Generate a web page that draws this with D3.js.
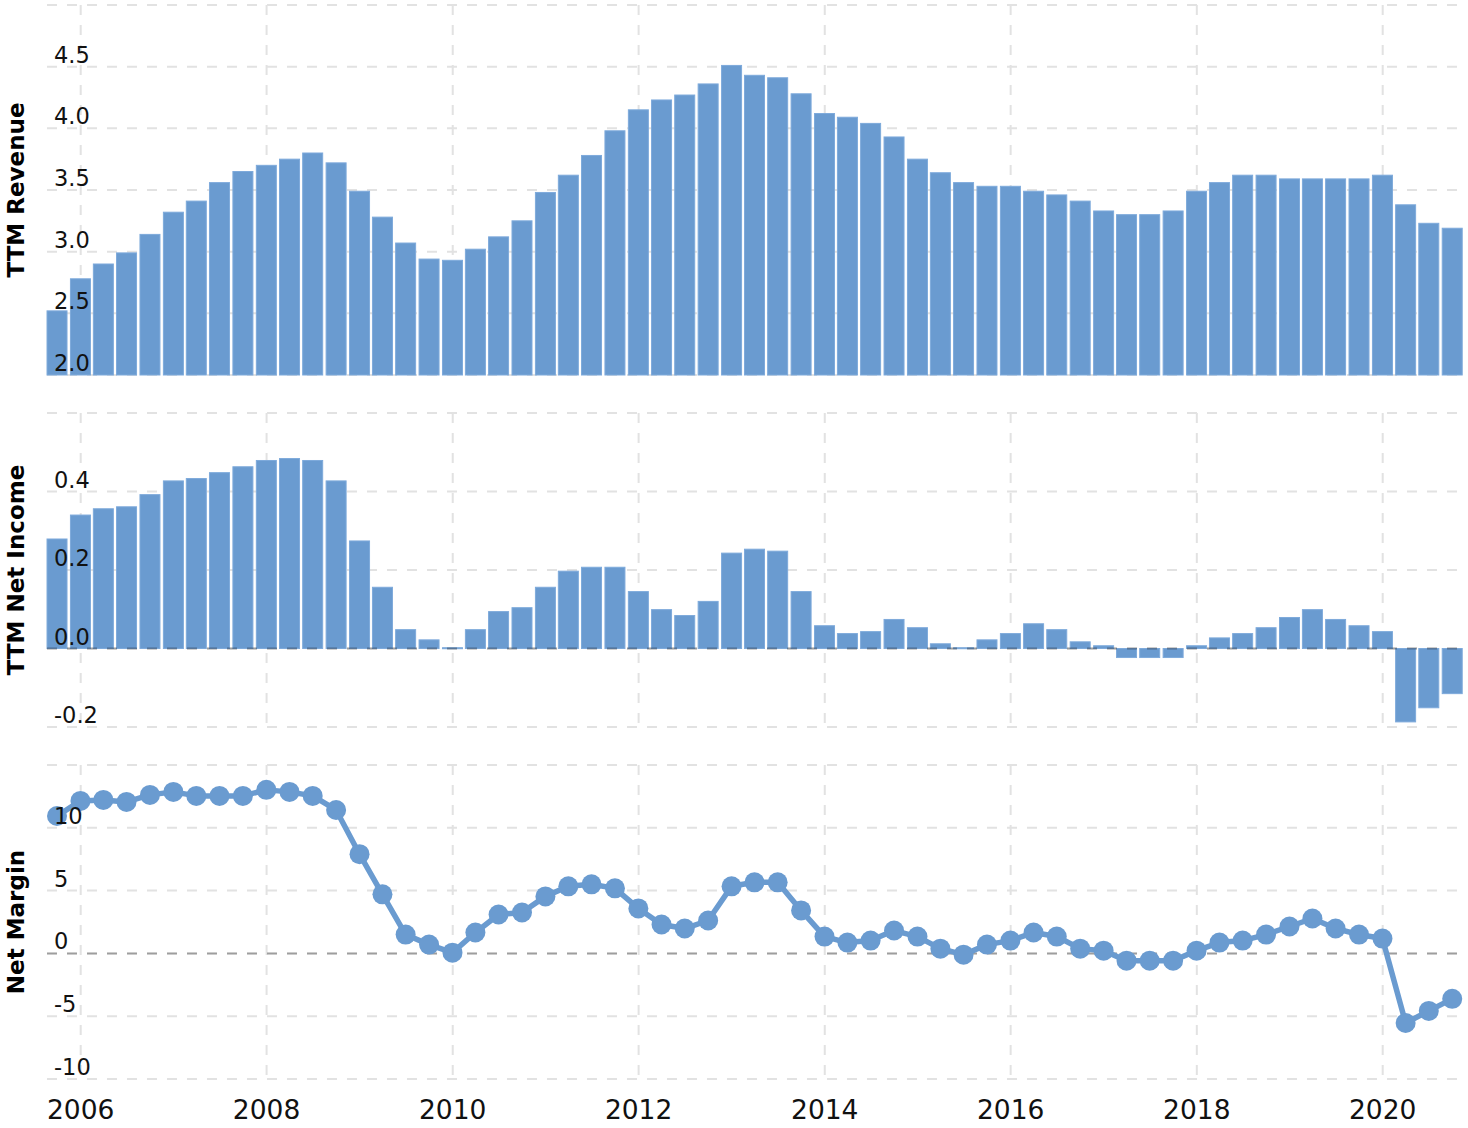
<!DOCTYPE html>
<html>
<head>
<meta charset="utf-8">
<script src="https://cdn.jsdelivr.net/npm/d3@7"></script>
<style>
  html, body { margin: 0; padding: 0; background: #fff; }
  svg { display: block; }
</style>
</head>
<body>
<svg id="chart" width="1468" height="1128"></svg>
<script>
// ---- Data ----
const quarters = [
  "2005-09-30","2005-12-31",
  "2006-03-31","2006-06-30","2006-09-30","2006-12-31",
  "2007-03-31","2007-06-30","2007-09-30","2007-12-31",
  "2008-03-31","2008-06-30","2008-09-30","2008-12-31",
  "2009-03-31","2009-06-30","2009-09-30","2009-12-31",
  "2010-03-31","2010-06-30","2010-09-30","2010-12-31",
  "2011-03-31","2011-06-30","2011-09-30","2011-12-31",
  "2012-03-31","2012-06-30","2012-09-30","2012-12-31",
  "2013-03-31","2013-06-30","2013-09-30","2013-12-31",
  "2014-03-31","2014-06-30","2014-09-30","2014-12-31",
  "2015-03-31","2015-06-30","2015-09-30","2015-12-31",
  "2016-03-31","2016-06-30","2016-09-30","2016-12-31",
  "2017-03-31","2017-06-30","2017-09-30","2017-12-31",
  "2018-03-31","2018-06-30","2018-09-30","2018-12-31",
  "2019-03-31","2019-06-30","2019-09-30","2019-12-31",
  "2020-03-31","2020-06-30","2020-09-30"
];

const revenue = [
  2.52, 2.78,
  2.90, 2.99, 3.14, 3.32,
  3.41, 3.56, 3.65, 3.70,
  3.75, 3.80, 3.72, 3.49,
  3.28, 3.07, 2.94, 2.93,
  3.02, 3.12, 3.25, 3.48,
  3.62, 3.78, 3.98, 4.15,
  4.23, 4.27, 4.36, 4.51,
  4.43, 4.41, 4.28, 4.12,
  4.09, 4.04, 3.93, 3.75,
  3.64, 3.56, 3.53, 3.53,
  3.49, 3.46, 3.41, 3.33,
  3.30, 3.30, 3.33, 3.49,
  3.56, 3.62, 3.62, 3.59,
  3.59, 3.59, 3.59, 3.62,
  3.38, 3.23, 3.19
];

const netIncome = [
  0.279, 0.340,
  0.356, 0.361, 0.392, 0.427,
  0.433, 0.448, 0.463, 0.479,
  0.484, 0.479, 0.427, 0.274,
  0.156, 0.048, 0.022, 0.002,
  0.048, 0.094, 0.104, 0.156,
  0.197, 0.207, 0.207, 0.145,
  0.099, 0.084, 0.120, 0.243,
  0.253, 0.248, 0.145, 0.058,
  0.038, 0.043, 0.074, 0.053,
  0.012, 0.002, 0.022, 0.038,
  0.063, 0.048, 0.017, 0.007,
  -0.023, -0.023, -0.023, 0.007,
  0.027, 0.038, 0.053, 0.079,
  0.099, 0.074, 0.058, 0.043,
  -0.187, -0.151, -0.115
];

const netMargin = [
  10.94, 12.14,
  12.22, 12.06, 12.62, 12.86,
  12.54, 12.54, 12.54, 13.02,
  12.86, 12.54, 11.42, 7.90,
  4.70, 1.50, 0.70, 0.06,
  1.66, 3.10, 3.26, 4.54,
  5.34, 5.50, 5.18, 3.58,
  2.30, 1.98, 2.62, 5.34,
  5.66, 5.66, 3.42, 1.34,
  0.86, 1.02, 1.82, 1.34,
  0.38, -0.10, 0.70, 1.02,
  1.66, 1.34, 0.38, 0.22,
  -0.58, -0.58, -0.58, 0.22,
  0.86, 1.02, 1.50, 2.14,
  2.78, 1.98, 1.50, 1.18,
  -5.54, -4.58, -3.62
];

const revTicks = [2.0, 2.5, 3.0, 3.5, 4.0, 4.5, 5.0];
const revTickLabels = ["2.0", "2.5", "3.0", "3.5", "4.0", "4.5", ""];
const niTicks = [-0.2, 0.0, 0.2, 0.4, 0.6];
const niTickLabels = ["-0.2", "0.0", "0.2", "0.4", ""];
const nmTicks = [-10, -5, 0, 5, 10, 15];
const nmTickLabels = ["-10", "-5", "0", "5", "10", ""];
const yearTicks = ["2006","2008","2010","2012","2014","2016","2018","2020"];
const panelTitles = ["TTM Revenue", "TTM Net Income", "Net Margin"];

// ---- Layout ----
const parse = d3.timeParse("%Y-%m-%d");
const dates = quarters.map(parse);
const svg = d3.select("#chart");
const left = 47, right = 1457;
const color = "#6a9bd0";

const x = d3.scaleTime()
  .domain([new Date(2006, 0, 1), new Date(2020, 0, 1)])
  .range([80.7, 1382.7]);

const panels = [
  { title: panelTitles[0], top: 5, bottom: 375, domain: [2, 5], ticks: revTicks, labels: revTickLabels },
  { title: panelTitles[1], top: 413, bottom: 727, domain: [-0.2, 0.6], ticks: niTicks, labels: niTickLabels },
  { title: panelTitles[2], top: 765, bottom: 1079, domain: [-10, 15], ticks: nmTicks, labels: nmTickLabels }
];
panels.forEach(p => { p.y = d3.scaleLinear().domain(p.domain).range([p.bottom, p.top]); });

const gridColor = "#e2e2e2";
const font = "'DejaVu Sans', Verdana, sans-serif";

function drawGrid(p) {
  const g = svg.append("g");
  g.selectAll("line.h").data(p.ticks).join("line")
    .attr("x1", left).attr("x2", right)
    .attr("y1", d => p.y(d)).attr("y2", d => p.y(d))
    .attr("stroke", gridColor).attr("stroke-width", 2)
    .attr("stroke-dasharray", "10,10");
  g.selectAll("line.v").data(yearTicks).join("line")
    .attr("x1", d => x(new Date(+d, 0, 1))).attr("x2", d => x(new Date(+d, 0, 1)))
    .attr("y1", p.top).attr("y2", p.bottom)
    .attr("stroke", gridColor).attr("stroke-width", 2)
    .attr("stroke-dasharray", "10,10");
}

function drawLabels(p) {
  const g = svg.append("g");
  g.selectAll("text").data(p.ticks.map((t, i) => ({ t, l: p.labels[i] })).filter(d => d.l !== ""))
    .join("text")
    .attr("x", 54).attr("y", d => p.y(d.t) - 4)
    .attr("font-family", font)
    .attr("font-size", 22.5).attr("fill", "#111")
    .text(d => d.l);
  const cy = (p.top + p.bottom) / 2;
  svg.append("text")
    .attr("transform", `translate(24,${cy}) rotate(-90)`)
    .attr("text-anchor", "middle")
    .attr("font-family", font)
    .attr("font-weight", "bold").attr("font-size", 23).attr("fill", "#000")
    .text(p.title);
}

function zeroLine(p) {
  svg.append("line")
    .attr("x1", left).attr("x2", right)
    .attr("y1", p.y(0)).attr("y2", p.y(0))
    .attr("stroke", "#000").attr("stroke-opacity", 0.3)
    .attr("stroke-width", 2).attr("stroke-dasharray", "10,10");
}

const barW = 20;

// Panel 1: Revenue
const p1 = panels[0];
drawGrid(p1);
svg.append("g").selectAll("rect").data(revenue).join("rect")
  .attr("x", (d, i) => x(dates[i]) - barW / 2)
  .attr("width", barW)
  .attr("y", d => p1.y(d))
  .attr("height", d => p1.y(2) - p1.y(d))
  .attr("fill", color).attr("stroke", "#7eaadb").attr("stroke-width", 1);
drawLabels(p1);

// Panel 2: Net income
const p2 = panels[1];
drawGrid(p2);
svg.append("g").selectAll("rect").data(netIncome).join("rect")
  .attr("x", (d, i) => x(dates[i]) - barW / 2)
  .attr("width", barW)
  .attr("y", d => Math.min(p2.y(d), p2.y(0)))
  .attr("height", d => Math.max(1, Math.abs(p2.y(d) - p2.y(0))))
  .attr("fill", color).attr("stroke", "#7eaadb").attr("stroke-width", 1);
zeroLine(p2);
drawLabels(p2);

// Panel 3: Net margin
const p3 = panels[2];
drawGrid(p3);
zeroLine(p3);
const line = d3.line().x((d, i) => x(dates[i])).y(d => p3.y(d));
svg.append("path").datum(netMargin)
  .attr("d", line).attr("fill", "none")
  .attr("stroke", color).attr("stroke-width", 5.5).attr("stroke-linejoin", "round");
svg.append("g").selectAll("circle").data(netMargin).join("circle")
  .attr("cx", (d, i) => x(dates[i])).attr("cy", d => p3.y(d))
  .attr("r", 10).attr("fill", color);
drawLabels(p3);

// X axis year labels
svg.append("g").selectAll("text").data(yearTicks).join("text")
  .attr("x", d => x(new Date(+d, 0, 1))).attr("y", 1119)
  .attr("text-anchor", "middle")
  .attr("font-family", font)
  .attr("font-size", 26.5).attr("fill", "#111")
  .text(d => d);
</script>
</body>
</html>
